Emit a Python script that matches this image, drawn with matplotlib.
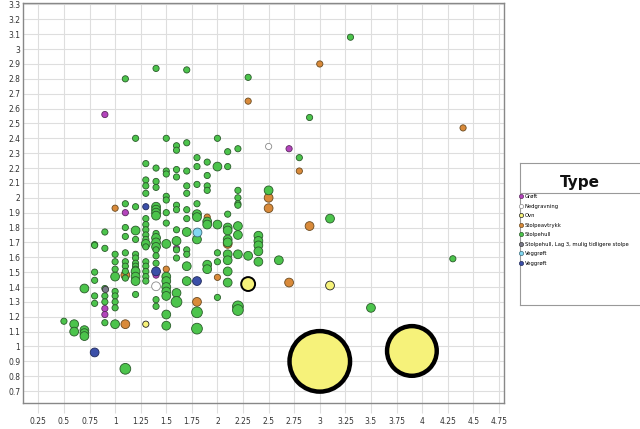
import numpy as np
import matplotlib
matplotlib.use("Agg")
import matplotlib.pyplot as plt
from matplotlib.lines import Line2D

# categories (legend order) and colours
types = ["Grøft", "Nedgravning", "Ovn", "Stolpeavtrykk", "Stolpehull",
         "Stolpehull, Lag 3, mulig tidligere stolpe", "Veggrøft", "Veggrøft"]
face = ["#b444bc", "#ffffff", "#f6f27a", "#d98a3a", "#4cc44c",
        "#7a7a8a", "#82d8f2", "#3b4fa8"]
edge = ["#5a2a5e", "#8a8a8a", "#222222", "#6a4a20", "#2a5a2a",
        "#3a3a3a", "#3a6a7a", "#202a5a"]

# Grøft
groft_x = [0.9, 2.7, 1.1, 1.6, 1.4, 0.9, 0.9]
groft_y = [2.56, 2.33, 1.90, 1.66, 1.48, 1.255, 1.215]
groft_w = [1, 1, 1, 1, 1, 1, 1]

# Nedgravning
nedg_x = [2.5, 1.4]
nedg_y = [2.345, 1.405]
nedg_w = [1, 2]

# Ovn
ovn_x = [1.3, 2.3, 3.1, 3.0, 3.9]
ovn_y = [1.15, 1.42, 1.41, 0.90, 0.97]
ovn_w = [1, 5, 2, 95, 64]

# Stolpeavtrykk
avtr_x = [2.3, 3.0, 4.4, 2.8, 2.5, 2.5, 1.0, 1.9, 2.1, 2.9, 1.1, 1.5, 2.0, 1.8, 2.7, 1.1]
avtr_y = [2.65, 2.90, 2.47, 2.18, 2.00, 1.93, 1.93, 1.87, 1.69, 1.81, 1.48, 1.52, 1.465, 1.30, 1.43, 1.15]
avtr_w = [1, 1, 1, 1, 2, 2, 1, 1, 2, 2, 2, 1, 1, 2, 2, 2]

# Stolpehull
hull_x = [1.1, 1.4, 1.7, 2.3, 3.3, 2.9,
          1.2, 1.5, 1.7, 2.0, 1.6, 1.6, 2.1, 2.2, 2.8,
          1.3, 1.4, 1.5, 1.5, 1.6, 1.7, 1.8, 1.9, 1.8, 2.0, 2.1,
          1.6, 1.9, 1.3, 1.3, 1.3, 1.4, 1.4, 1.7, 1.7, 1.8, 1.9, 1.9,
          2.2, 2.2, 2.2, 2.2, 2.5, 1.1, 1.2, 1.3,
          1.4, 1.4, 1.4, 1.4, 1.5, 1.5, 1.5, 1.6, 1.6, 1.7, 1.7,
          1.8, 1.8, 1.8, 1.9, 1.9, 2.0, 2.1, 2.1, 2.1, 2.2, 2.2,
          0.9, 1.1, 1.1, 1.2, 1.2,
          1.3, 1.3, 1.3, 1.3, 1.3, 1.3,
          1.4, 1.4, 1.4, 1.4, 1.4, 1.4, 1.4,
          1.5, 1.5, 1.6, 1.6, 1.7, 1.8, 2.1, 2.1,
          2.4, 2.4, 2.4, 3.1, 0.8, 0.9,
          1.0, 1.0, 1.0, 1.1, 1.1, 1.1, 1.1,
          1.2, 1.2, 1.2, 1.2, 1.2,
          1.3, 1.3, 1.3, 1.3, 1.3, 1.2, 1.2, 1.2, 1.0, 1.1,
          0.9, 0.9, 0.9, 0.9, 1.0, 1.0, 1.0, 1.0, 1.0, 1.2, 1.4, 1.4,
          1.5, 1.5, 1.5, 1.5, 1.5, 1.5, 1.5,
          1.6, 1.6, 1.6, 1.6, 1.7, 1.7, 1.7, 1.7, 1.8, 1.8, 1.9, 1.9,
          2.0, 2.0, 2.0, 2.1, 2.1, 2.1, 2.1, 2.2, 2.2, 2.2, 2.3,
          2.4, 2.4, 2.6, 0.5, 0.6, 0.6, 0.7, 0.7, 0.7, 0.7,
          0.8, 0.8, 0.8, 0.8, 0.8, 1.1, 3.5, 4.3]
hull_y = [2.80, 2.87, 2.86, 2.81, 3.08, 2.54,
          2.40, 2.40, 2.37, 2.40, 2.35, 2.32, 2.31, 2.33, 2.27,
          2.23, 2.20, 2.18, 2.16, 2.19, 2.18, 2.27, 2.24, 2.21, 2.21, 2.21,
          2.14, 2.15, 2.12, 2.08, 2.03, 2.11, 2.07, 2.08, 2.03, 2.09, 2.08, 2.05,
          2.05, 2.00, 1.96, 1.95, 2.05, 1.96, 1.94, 1.86,
          1.94, 1.92, 1.90, 1.88, 2.01, 1.985, 1.90, 1.95, 1.92, 1.92, 1.86,
          1.96, 1.89, 1.87, 1.84, 1.82, 1.82, 1.89, 1.80, 1.78, 1.81, 1.75,
          1.77, 1.80, 1.74, 1.78, 1.72,
          1.82, 1.785, 1.75, 1.72, 1.69, 1.67,
          1.76, 1.73, 1.70, 1.67, 1.65, 1.61, 1.56,
          1.83, 1.69, 1.71, 1.785, 1.77, 1.72, 1.72, 1.70,
          1.745, 1.71, 1.68, 1.86, 1.685, 1.66,
          1.62, 1.57, 1.52, 1.63, 1.57, 1.54, 1.505,
          1.62, 1.595, 1.56, 1.54, 1.52,
          1.57, 1.54, 1.505, 1.47, 1.44, 1.505, 1.47, 1.44, 1.47, 1.46,
          1.39, 1.34, 1.30, 1.16, 1.37, 1.34, 1.30, 1.26, 1.15, 1.35, 1.315, 1.27,
          1.47, 1.44, 1.40, 1.37, 1.34, 1.215, 1.14,
          1.65, 1.595, 1.36, 1.30, 1.65, 1.62, 1.54, 1.44, 1.23, 1.12, 1.55, 1.52,
          1.63, 1.57, 1.33, 1.62, 1.58, 1.505, 1.43, 1.62, 1.27, 1.245, 1.61,
          1.64, 1.57, 1.58, 1.17, 1.15, 1.10, 1.11, 1.09, 1.07, 1.39,
          1.50, 1.445, 1.34, 1.29, 1.68, 0.85, 1.26, 1.59]
hull_w = [1, 1, 1, 1, 1, 1,
          1, 1, 1, 1, 1, 1, 1, 1, 1,
          1, 1, 1, 1, 1, 1, 1, 1, 1, 2, 1,
          1, 1, 1, 1, 1, 1, 1, 1, 1, 1, 1, 1,
          1, 1, 1, 1, 2, 1, 1, 1,
          2, 2, 2, 2, 1, 1, 1, 1, 1, 1, 1,
          1, 2, 2, 2, 2, 2, 1, 2, 2, 2, 2,
          1, 1, 1, 2, 1,
          1, 1, 1, 1, 2, 1,
          1, 2, 2, 2, 1, 1, 1,
          1, 2, 2, 1, 2, 2, 2, 2,
          2, 2, 2, 2, 1, 1,
          1, 1, 1, 1, 1, 1, 1,
          1, 1, 1, 1, 1,
          1, 1, 1, 1, 1, 2, 2, 2, 2, 1,
          1, 1, 1, 1, 1, 1, 1, 1, 2, 1, 1, 1,
          2, 2, 2, 2, 2, 2, 2,
          1, 1, 2, 3, 1, 1, 2, 2, 3, 3, 2, 2,
          1, 1, 1, 2, 2, 2, 2, 2, 3, 3, 2,
          2, 2, 2, 1, 2, 2, 2, 2, 2, 2,
          1, 1, 1, 1, 1, 3, 2, 1]

# Stolpehull, Lag 3
lag3_x = [0.9]
lag3_y = [1.39]
lag3_w = [1]

# Veggrøft (cyan) and Veggrøft (blue)
vegc_x = [1.8]
vegc_y = [1.77]
vegc_w = [2]
vegb_x = [1.3, 1.4, 1.8, 0.8]
vegb_y = [1.94, 1.505, 1.44, 0.96]
vegb_w = [1, 2, 2, 2]

series = [(groft_x, groft_y, groft_w), (nedg_x, nedg_y, nedg_w),
          (ovn_x, ovn_y, ovn_w), (avtr_x, avtr_y, avtr_w),
          (hull_x, hull_y, hull_w), (lag3_x, lag3_y, lag3_w),
          (vegc_x, vegc_y, vegc_w), (vegb_x, vegb_y, vegb_w)]

fig = plt.figure(figsize=(6.4, 4.29), dpi=100)
ax = fig.add_axes([23/640, 1-403/429, 481/640, 400/429])

for i, (xs, ys, ws) in enumerate(series):
    ws = np.array(ws, dtype=float)
    sizes = 20 * ws
    lw = np.where(ws > 20, 3.2, np.where(ws > 3, 1.4, 0.6))
    ecs = [("black" if w > 3 else edge[i]) for w in ws]
    ax.scatter(xs, ys, s=sizes, c=face[i], edgecolors=ecs, linewidths=lw, zorder=3)

ax.set_xlim(0.1, 4.8)
ax.set_ylim(0.62, 3.31)
ax.set_xticks(np.arange(0.25, 4.76, 0.25))
ax.set_yticks(np.arange(0.7, 3.31, 0.1))
ax.set_xticklabels(["%g" % round(v, 2) for v in np.arange(0.25, 4.76, 0.25)])
ax.set_yticklabels(["%g" % round(v, 1) for v in np.arange(0.7, 3.31, 0.1)])
ax.grid(True, color="#dedede", linewidth=0.8, zorder=0)
ax.set_axisbelow(True)
ax.tick_params(axis="both", labelsize=5.5, colors="#333333", length=7, width=0.8,
               pad=2)
ax.tick_params(axis="x", color="#dedede", pad=3)
ax.tick_params(axis="y", length=0, pad=2)
for sp in ax.spines.values():
    sp.set_color("#888888")
    sp.set_linewidth(1.0)

# legend panel
lax = fig.add_axes([520/640, 1-305/429, 130/640, 142/429])
lax.set_xticks([])
lax.set_yticks([])
for sp in lax.spines.values():
    sp.set_color("#999999")
    sp.set_linewidth(0.8)
lax.set_xlim(0, 1)
lax.set_ylim(0, 1)
lax.text(0.46, 0.865, "Type", ha="center", va="center", fontsize=11,
         fontweight="bold", color="#111111")
lax.axhline(0.79, color="#999999", linewidth=0.8)
handles = [Line2D([], [], marker="o", linestyle="", markersize=3.0,
                  markerfacecolor=face[i], markeredgecolor=edge[i],
                  markeredgewidth=0.5) for i in range(len(types))]
lax.legend(handles, types, loc="upper left", bbox_to_anchor=(-0.02, 0.795),
           frameon=False, fontsize=3.8, handlelength=0.6, handletextpad=0.35,
           labelspacing=0.85, borderaxespad=0.2, borderpad=0.2)

fig.savefig("out.png", dpi=100)
